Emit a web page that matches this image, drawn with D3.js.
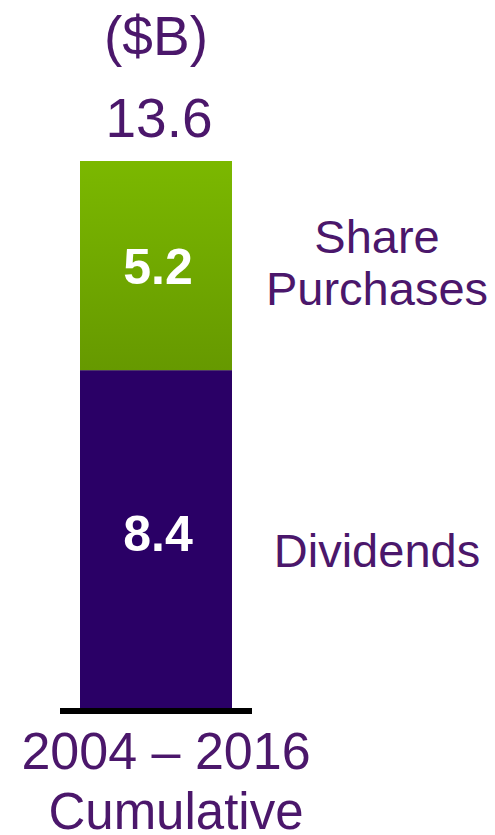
<!DOCTYPE html>
<html>
<head>
<meta charset="utf-8">
<script src="https://cdn.jsdelivr.net/npm/d3@7"></script>
<style>
  body { margin: 0; background: #fff; }
  text { font-family: "Liberation Sans", Arial, sans-serif; }
</style>
</head>
<body>
<div id="chart"></div>
<script>
// data
var categories = ["2004 – 2016 Cumulative"];
var seriesNames = ["Dividends", "Share Purchases"];
var dividends = [8.4];
var sharePurchases = [5.2];
var totals = [13.6];
var unitLabel = "($B)";

var width = 495, height = 835;
var purple = "#2a0066", textPurple = "#4b176b";

var svg = d3.select("#chart").append("svg")
  .attr("width", width)
  .attr("height", height);

var defs = svg.append("defs");
var grad = defs.append("linearGradient")
  .attr("id", "greenGrad")
  .attr("x1", 0).attr("y1", 0).attr("x2", 0).attr("y2", 1);
grad.append("stop").attr("offset", "0%").attr("stop-color", "#7bb800");
grad.append("stop").attr("offset", "100%").attr("stop-color", "#669900");

var x = d3.scaleBand()
  .domain(categories)
  .range([60, 252])
  .paddingInner(0)
  .paddingOuter(20 / 152);

var y = d3.scaleLinear()
  .domain([0, 13.6])
  .range([708, 161]);

var rows = categories.map(function(c, i) {
  return { cat: c, values: [dividends[i], sharePurchases[i]] };
});

var stack = d3.stack().keys([0, 1]).value(function(d, k) { return d.values[k]; });
var layers = stack(rows);
var fills = [purple, "url(#greenGrad)"];
var valueOffsets = [12, 18];   // baseline shift of the white numbers
var labelOffsets = [28, 13];   // baseline shift of the series names

var g = svg.selectAll(".layer")
  .data(layers)
  .enter().append("g")
  .attr("class", "layer")
  .attr("fill", function(d, i) { return fills[i]; });

g.selectAll("rect")
  .data(function(d) { return d; })
  .enter().append("rect")
  .attr("x", function(d) { return x(d.data.cat); })
  .attr("width", x.bandwidth())
  .attr("y", function(d) { return y(d[1]); })
  .attr("height", function(d) { return y(d[0]) - y(d[1]); });

// value labels inside segments
g.each(function(layer, i) {
  d3.select(this).selectAll("text")
    .data(layer)
    .enter().append("text")
    .attr("x", function(d) { return x(d.data.cat) + x.bandwidth() / 2 + 2; })
    .attr("y", function(d) { return (y(d[0]) + y(d[1])) / 2 + valueOffsets[i]; })
    .attr("text-anchor", "middle")
    .attr("fill", "#fff")
    .attr("font-weight", "bold")
    .attr("font-size", 50)
    .text(function(d) { return d.data.values[i].toFixed(1); });
});

// baseline
svg.append("line")
  .attr("x1", 60).attr("x2", 252)
  .attr("y1", y(0) + 3).attr("y2", y(0) + 3)
  .attr("stroke", "#000")
  .attr("stroke-width", 6);

// total and unit
var cx = x(categories[0]) + x.bandwidth() / 2;
svg.append("text")
  .attr("x", cx + 3).attr("y", y(totals[0]) - 24)
  .attr("text-anchor", "middle")
  .attr("fill", textPurple)
  .attr("font-size", 55)
  .text(totals[0].toFixed(1));
svg.append("text")
  .attr("x", cx).attr("y", 55)
  .attr("text-anchor", "middle")
  .attr("fill", textPurple)
  .attr("font-size", 55)
  .text(unitLabel);

// series labels at right
var seriesLines = [["Dividends"], ["Share", "Purchases"]];
layers.forEach(function(layer, i) {
  var mid = (y(layer[0][0]) + y(layer[0][1])) / 2;
  var lines = seriesLines[i];
  var t = svg.append("text")
    .attr("text-anchor", "middle")
    .attr("fill", textPurple)
    .attr("font-size", 47);
  lines.forEach(function(l, j) {
    t.append("tspan")
      .attr("x", 377)
      .attr("y", mid + labelOffsets[i] + (j - (lines.length - 1) / 2) * 52)
      .text(l);
  });
});

// category label
svg.append("text")
  .attr("x", 166).attr("y", 769)
  .attr("text-anchor", "middle")
  .attr("fill", textPurple)
  .attr("font-size", 52)
  .text("2004 – 2016");
svg.append("text")
  .attr("x", 176).attr("y", 829)
  .attr("text-anchor", "middle")
  .attr("fill", textPurple)
  .attr("font-size", 51)
  .text("Cumulative");
</script>
</body>
</html>
